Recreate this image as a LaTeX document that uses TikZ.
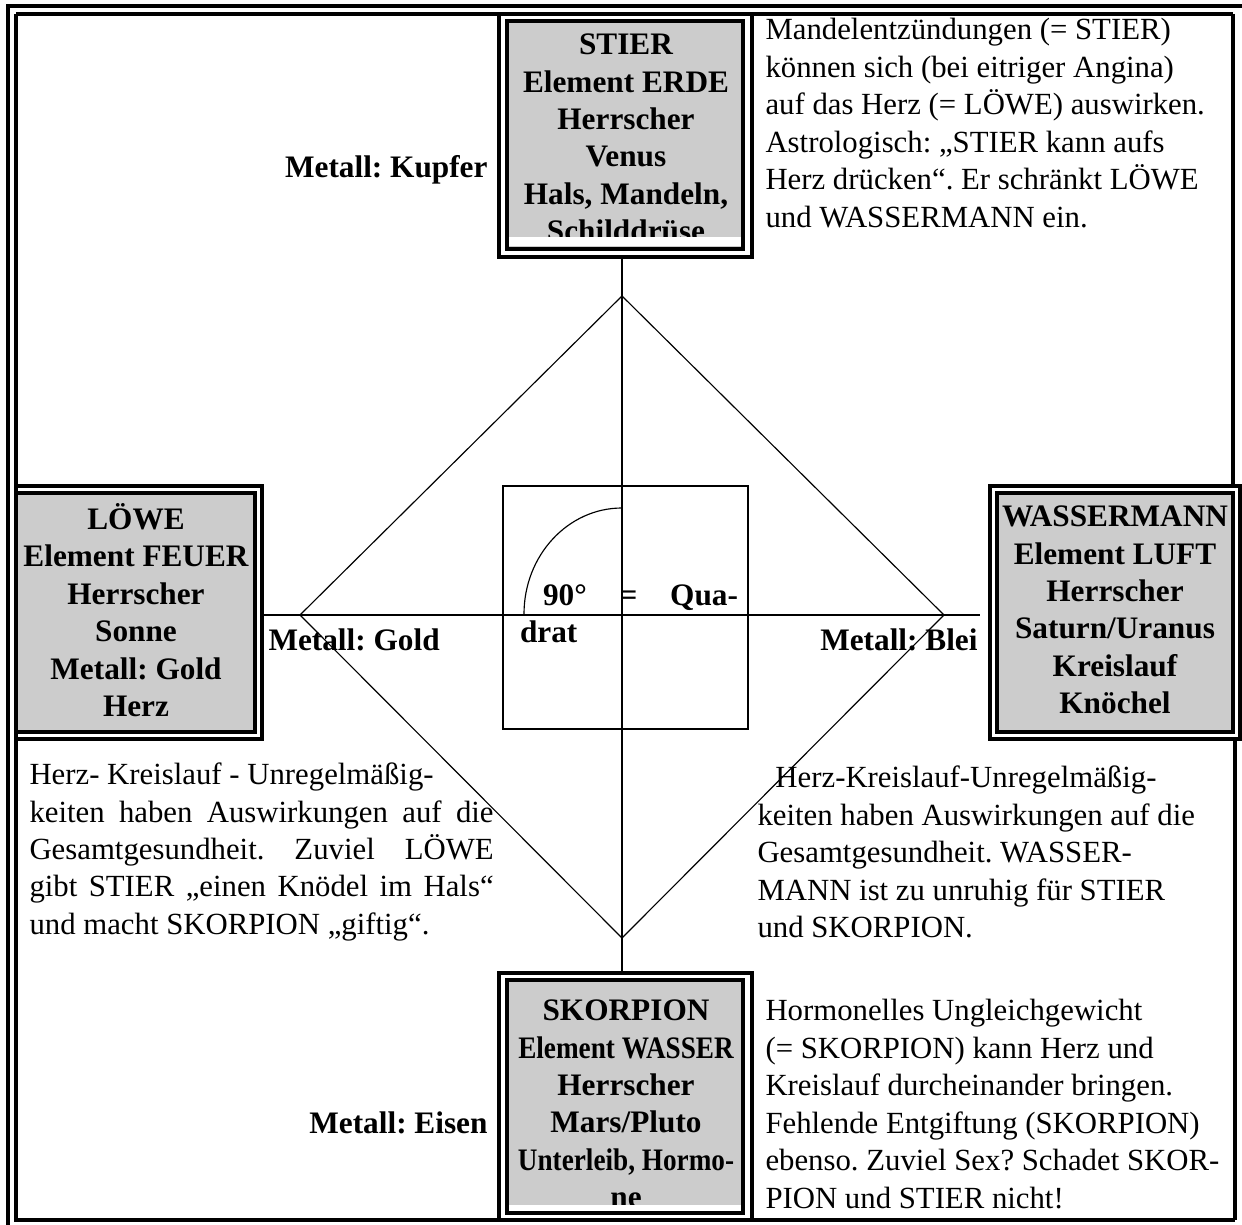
\documentclass[tikz,border=0pt]{standalone}
\usepackage{fontspec}
\setmainfont{Liberation Serif}
\usepackage{graphicx}
\usepackage{xcolor}
\frenchspacing

\definecolor{boxgray}{RGB}{204,204,204}

\tikzset{
  rahmen/.style={line width=1.5pt, black},
  duenn/.style={line width=0.45pt, black},
  quadratlinie/.style={line width=0.9pt, black},
  zeichen/.style={font=\fontsize{12.2}{14.6}\selectfont\bfseries, align=center, inner sep=0pt},
  metall/.style={font=\fontsize{12.2}{14.6}\selectfont\bfseries, inner sep=0pt},
  notiz/.style={font=\fontsize{12}{14.6}\selectfont, align=left, inner sep=0pt, anchor=west}
}

\begin{document}
\begin{tikzpicture}[x=0.39pt, y=-0.39pt]
\useasboundingbox (0,0) rectangle (1242,1225);


\fill[boxgray] (508,22) rectangle (742,248);
\fill[boxgray] (508,981) rectangle (742,1212);
\fill[boxgray] (17,494) rectangle (254,731);
\fill[boxgray] (998,494) rectangle (1232,731);

\node[zeichen] (stier) at (626,138) {STIER\\Element ERDE\\Herrscher\\Venus\\Hals, Mandeln,\\Schilddrüse};
\node[zeichen] (skorpion) at (626,1104) {SKORPION\\\scalebox{0.87}[1]{Element WASSER}\\Herrscher\\Mars/Pluto\\\scalebox{0.87}[1]{Unterleib, Hormo-}\\ne};
\node[zeichen] (loewe) at (136,610) {LÖWE\\Element FEUER\\Herrscher\\Sonne\\Metall: Gold\\Herz};
\node[zeichen] (wasser) at (1115,610) {WASSERMANN\\Element LUFT\\Herrscher\\Saturn/Uranus\\Kreislauf\\Knöchel};

\fill[white] (509,237) rectangle (741,246);
\fill[white] (509,1205) rectangle (741,1212);


\draw[rahmen] (6,6) -- (1242,6);
\draw[rahmen] (8,6) -- (8,1225);
\draw[rahmen] (16,14) -- (1233,14);
\draw[rahmen] (16,14) -- (16,1220) -- (1235,1220);
\draw[rahmen] (1233,14) -- (1233,486);
\draw[rahmen] (1235,739) -- (1235,1220);

\draw[rahmen] (499,14) rectangle (752,257);
\draw[rahmen] (507,21) rectangle (743,249);
\draw[rahmen] (499,973) rectangle (752,1220);
\draw[rahmen] (507,980) rectangle (743,1213);
\draw[rahmen] (16,486) -- (262,486) -- (262,739) -- (16,739);
\draw[rahmen] (16,493) -- (255,493) -- (255,732) -- (16,732);
\draw[rahmen] (990,486) rectangle (1240,739);
\draw[rahmen] (997,493) rectangle (1233,732);


\coordinate (stierS) at (622,257);
\coordinate (skorpionN) at (622,973);
\coordinate (loeweE) at (262,615);
\coordinate (wasserW) at (980,615);
\draw[duenn] (stierS) -- (skorpionN);
\draw[duenn] (loeweE) -- (wasserW);

\coordinate (dN) at (622,296);
\coordinate (dE) at (944,615);
\coordinate (dS) at (622,938);
\coordinate (dW) at (300,615);
\draw[duenn] (dN) -- (dE) -- (dS) -- (dW) -- cycle;

\draw[quadratlinie] (503,486) rectangle (748,729);
\draw[duenn] (622,508) arc[start angle=270, end angle=180, x radius=98, y radius=106];
\node[zeichen, align=justify, text width=85pt] (quadrat) at (629,614) {\hspace*{9pt}90° = Qua-\linebreak drat};


\node[metall, anchor=east] (kupfer) at (488,170) {Metall: Kupfer};
\node[metall, anchor=west] (gold) at (268,640) {Metall: Gold};
\node[metall, anchor=east] (blei) at (978,640) {Metall: Blei};
\node[metall, anchor=east] (eisen) at (488,1123) {Metall: Eisen};


\node[notiz] (mandel) at (765,123) {Mandelentzündungen (= STIER)\\können sich (bei eitriger Angina)\\auf das Herz (= LÖWE) auswirken.\\Astrologisch: „STIER kann aufs\\Herz drücken“. Er schränkt LÖWE\\und WASSERMANN ein.};
\node[notiz, text width=181pt, align=justify] (herzlinks) at (29,852) {Herz- Kreislauf - Unregelmäßig-\\keiten haben Auswirkungen auf die\linebreak Gesamtgesundheit. Zuviel LÖWE\linebreak gibt STIER „einen Knödel im Hals“\linebreak und macht SKORPION „giftig“.};
\node[notiz] (herzrechts) at (757,852) {\hspace*{7pt}Herz-Kreislauf-Unregelmäßig-\\keiten haben Auswirkungen auf die\\Gesamtgesundheit. WASSER-\\MANN ist zu unruhig für STIER\\und SKORPION.};
\node[notiz] (hormon) at (765,1104) {Hormonelles Ungleichgewicht\\(= SKORPION) kann Herz und\\Kreislauf durcheinander bringen.\\Fehlende Entgiftung (SKORPION)\\ebenso. Zuviel Sex? Schadet SKOR-\\PION und STIER nicht!};


\end{tikzpicture}
\end{document}
